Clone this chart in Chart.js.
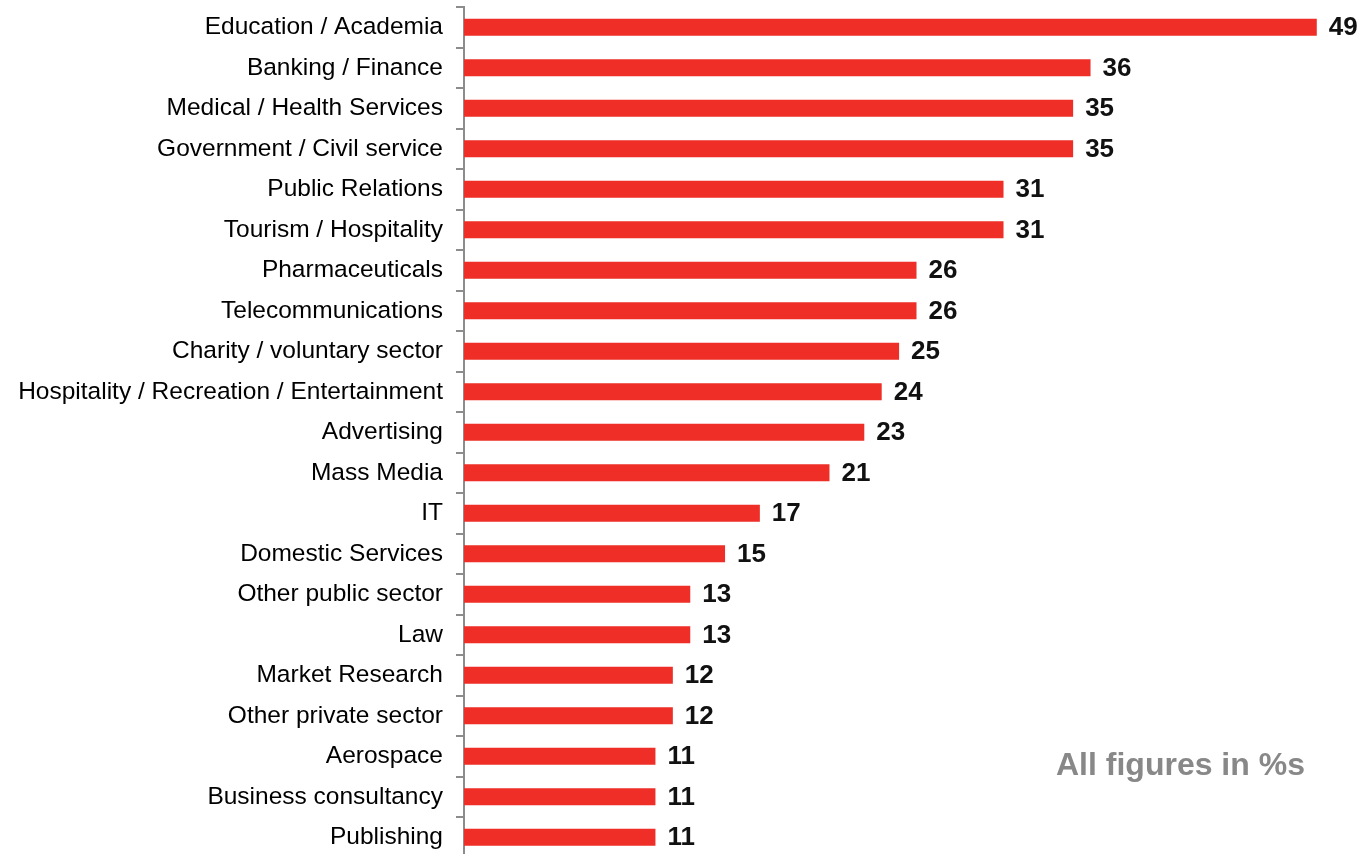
<!DOCTYPE html>
<html>
<head>
<meta charset="utf-8">
<script src="https://cdn.jsdelivr.net/npm/chart.js@4/dist/chart.umd.min.js"></script>
<style>
  html, body { margin: 0; padding: 0; background: #fff; overflow: hidden; }
  #wrap { position: relative; width: 1371px; height: 854px; overflow: hidden; }
  #chart { position: absolute; left: 0; top: 0; }
  #note {
    position: absolute; left: 1056px; top: 746px;
    font: bold 32px "Liberation Sans", Arial, sans-serif;
    color: #888; white-space: nowrap;
  }
</style>
</head>
<body>
<div id="wrap">
  <canvas id="chart" width="1371" height="860" style="width:1371px;height:860px"></canvas>
  <div id="note">All figures in %s</div>
</div>
<script>
const sectors = [
  "Education / Academia",
  "Banking / Finance",
  "Medical / Health Services",
  "Government / Civil service",
  "Public Relations",
  "Tourism / Hospitality",
  "Pharmaceuticals",
  "Telecommunications",
  "Charity / voluntary sector",
  "Hospitality / Recreation / Entertainment",
  "Advertising",
  "Mass Media",
  "IT",
  "Domestic Services",
  "Other public sector",
  "Law",
  "Market Research",
  "Other private sector",
  "Aerospace",
  "Business consultancy",
  "Publishing"
];
const shares = [49, 36, 35, 35, 31, 31, 26, 26, 25, 24, 23, 21, 17, 15, 13, 13, 12, 12, 11, 11, 11];

const AXIS_LEFT = 464;

// writes each bar's value just past its end
const valueLabels = {
  id: 'valueLabels',
  afterDatasetsDraw(chart) {
    const ctx = chart.ctx;
    const meta = chart.getDatasetMeta(0);
    ctx.save();
    ctx.font = 'bold 26px "Liberation Sans", Arial, sans-serif';
    ctx.fillStyle = '#111';
    ctx.textAlign = 'left';
    ctx.textBaseline = 'middle';
    meta.data.forEach((bar, i) => {
      ctx.fillText(String(shares[i]), bar.x + 12, bar.y + 1);
    });
    ctx.restore();
  }
};

new Chart(document.getElementById('chart'), {
  type: 'bar',
  data: {
    labels: sectors,
    datasets: [{
      data: shares,
      backgroundColor: '#ee2e27',
      borderWidth: 0,
      barPercentage: 0.84,
      categoryPercentage: 0.5
    }]
  },
  options: {
    indexAxis: 'y',
    responsive: false,
    animation: false,
    layout: { padding: { top: 7, right: 2, bottom: 2.5, left: 0 } },
    plugins: {
      legend: { display: false },
      tooltip: { enabled: false }
    },
    scales: {
      x: {
        display: false,
        min: 0,
        max: 52
      },
      y: {
        afterFit(scale) {
          scale.width = AXIS_LEFT;
          scale.paddingTop = 0;
          scale.paddingBottom = 0;
        },
        grid: {
          offset: true,
          drawOnChartArea: false,
          drawTicks: true,
          tickLength: 8,
          color: '#8c8c8c',
          lineWidth: 2
        },
        border: { display: true, color: '#8c8c8c', width: 2 },
        ticks: {
          color: '#000',
          padding: 13,
          font: { family: '"Liberation Sans", Arial, sans-serif', size: 24.5 }
        }
      }
    }
  },
  plugins: [valueLabels]
});
</script>
</body>
</html>
